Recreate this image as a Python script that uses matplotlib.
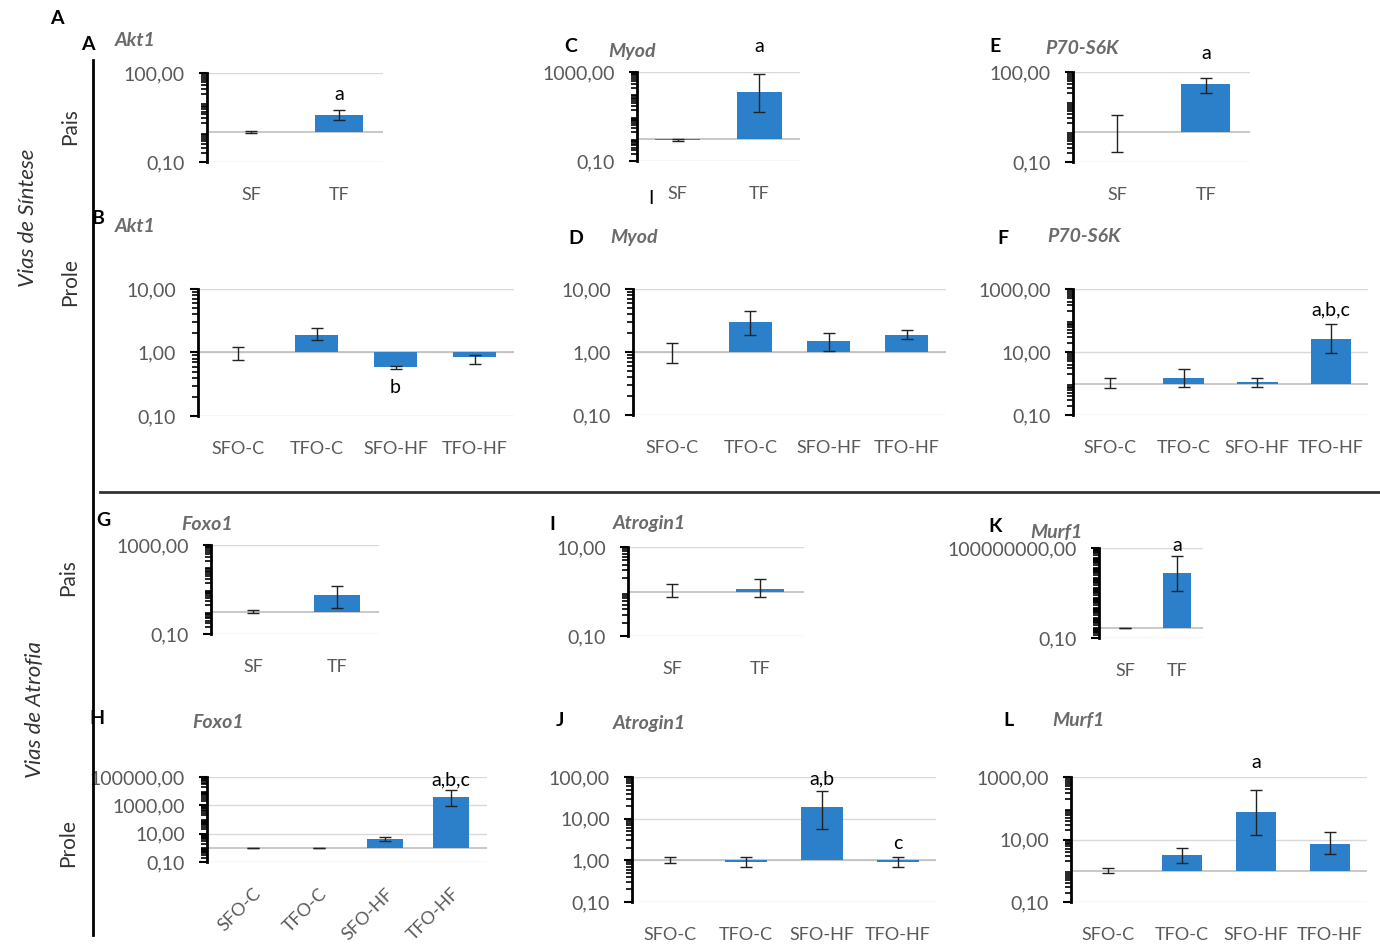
import matplotlib
matplotlib.use("Agg")
import matplotlib.pyplot as plt
import numpy as np
from matplotlib.ticker import FixedLocator, FuncFormatter, LogLocator, NullFormatter

plt.rcParams['font.family'] = ['Lato', 'DejaVu Sans']

W, H = 1380, 944

# ---- data (mean, lower / upper error-bar ends) ----
pais = ["SF", "TF"]
prole = ["SFO-C", "TFO-C", "SFO-HF", "TFO-HF"]

akt1_pais = [1.0, 3.7]
akt1_pais_lo = [0.92, 2.6]
akt1_pais_hi = [1.08, 5.8]

myod_pais = [0.9, 129]
myod_pais_lo = [0.82, 16]
myod_pais_hi = [0.98, 830]

p70_pais = [1.0, 40]
p70_pais_lo = [0.21, 20]
p70_pais_hi = [3.7, 63]

akt1_prole = [1.0, 1.9, 0.6, 0.85]
akt1_prole_lo = [0.75, 1.55, 0.54, 0.67]
akt1_prole_hi = [1.24, 2.4, 0.62, 0.9]

myod_prole = [1.0, 3.0, 1.5, 1.85]
myod_prole_lo = [0.67, 1.85, 1.05, 1.6]
myod_prole_hi = [1.38, 4.4, 2.0, 2.2]

p70_prole = [1.0, 1.5, 1.1, 26]
p70_prole_lo = [0.73, 0.8, 0.8, 9]
p70_prole_hi = [1.5, 2.9, 1.5, 80]

foxo1_pais = [1.0, 5.8]
foxo1_pais_lo = [0.85, 1.5]
foxo1_pais_hi = [1.15, 15]

atrogin1_pais = [1.0, 1.15]
atrogin1_pais_lo = [0.75, 0.75]
atrogin1_pais_hi = [1.45, 1.9]

murf1_pais = [1.0, 3e5]
murf1_pais_lo = [0.9, 5000]
murf1_pais_hi = [1.1, 1.6e7]

foxo1_prole = [1.0, 1.0, 4.3, 4000]
foxo1_prole_lo = [0.95, 0.95, 3.0, 900]
foxo1_prole_hi = [1.05, 1.05, 6.0, 12000]

atrogin1_prole = [1.0, 0.9, 18.6, 0.9]
atrogin1_prole_lo = [0.85, 0.7, 5.8, 0.7]
atrogin1_prole_hi = [1.2, 1.2, 45, 1.2]

murf1_prole = [1.0, 3.2, 78, 7.3]
murf1_prole_lo = [0.85, 1.8, 14, 3.5]
murf1_prole_hi = [1.2, 5.5, 390, 18]

fig = plt.figure(figsize=(W / 100, H / 100), dpi=100)

GREY = '#595959'
BLUE = '#2b80c9'


def fmt(v, _pos=None):
    return f"{v:.2f}".replace('.', ',')


def panel(x0, x1, ytop, ybot, cats, vals, lo, hi, ticks, sig=None, rot=False, xlim=None):
    ax = fig.add_axes([x0 / W, 1 - ybot / H, (x1 - x0) / W, (ybot - ytop) / H])
    x = np.arange(len(cats))
    v = np.array(vals, dtype=float)
    ax.bar(x, v - 1, bottom=1, width=0.55, color=BLUE, linewidth=0, zorder=3)
    ax.errorbar(x, v, yerr=[v - np.array(lo), np.array(hi) - v], fmt='none',
                ecolor='#222222', elinewidth=1, capsize=4, capthick=1, zorder=4)
    ax.set_yscale('log')
    ax.set_ylim(ticks[0], ticks[-1])
    ax.set_xlim(xlim if xlim else (-0.5, len(cats) - 0.5))
    ax.yaxis.set_major_locator(FixedLocator(ticks))
    ax.yaxis.set_major_formatter(FuncFormatter(fmt))
    ax.yaxis.set_minor_locator(LogLocator(base=10, subs=np.arange(2, 10), numticks=100))
    ax.yaxis.set_minor_formatter(NullFormatter())
    for t in ticks:
        ax.axhline(t, color='#d9d9d9', lw=1, zorder=0)
    ax.axhline(1, color='#bfbfbf', lw=1.2, zorder=1)
    for s in ['top', 'right', 'bottom']:
        ax.spines[s].set_visible(False)
    ax.spines['left'].set_linewidth(2)
    ax.spines['left'].set_color('black')
    ax.tick_params(axis='y', which='major', direction='out', length=6, width=1.5,
                   labelsize=14, labelcolor=GREY, color='black', pad=10)
    ax.tick_params(axis='y', which='minor', direction='out', length=4, width=1.2,
                   color='black')
    ax.set_xticks(x)
    if rot:
        ax.set_xticklabels(cats, rotation=45, ha='right', rotation_mode='anchor')
    else:
        ax.set_xticklabels(cats)
    ax.tick_params(axis='x', length=0, labelsize=13, labelcolor=GREY,
                   pad=17 if rot else 18)
    ax.patch.set_alpha(0)
    if sig:
        for i, (s, yy) in sig.items():
            ax.text(i, yy, s, ha='center', va='bottom', fontsize=14, color='black')
    return ax


# top block: Vias de Sintese
panel(207, 383, 73, 162, pais, akt1_pais, akt1_pais_lo, akt1_pais_hi, [0.1, 100],
      sig={1: ('a', 10)})
panel(637, 800, 72, 161, pais, myod_pais, myod_pais_lo, myod_pais_hi, [0.1, 1000],
      sig={1: ('a', 6000)})
panel(1073, 1250, 72, 162, pais, p70_pais, p70_pais_lo, p70_pais_hi, [0.1, 100],
      sig={1: ('a', 210)})
panel(198, 514, 289, 416, prole, akt1_prole, akt1_prole_lo, akt1_prole_hi, [0.1, 1, 10],
      sig={2: ('b', 0.21)})
panel(633, 946, 289, 415, prole, myod_prole, myod_prole_lo, myod_prole_hi, [0.1, 1, 10])
panel(1073, 1368, 289, 415, prole, p70_prole, p70_prole_lo, p70_prole_hi, [0.1, 10, 1000],
      sig={3: ('a,b,c', 120)})

# bottom block: Vias de Atrofia
panel(211, 379, 545, 634, pais, foxo1_pais, foxo1_pais_lo, foxo1_pais_hi, [0.1, 1000])
panel(628, 804, 547, 636, pais, atrogin1_pais, atrogin1_pais_lo, atrogin1_pais_hi, [0.1, 10])
panel(1099, 1203, 548, 638, pais, murf1_pais, murf1_pais_lo, murf1_pais_hi, [0.1, 1e8],
      sig={1: ('a', 2.5e7)})
panel(207, 487, 777, 862, prole, foxo1_prole, foxo1_prole_lo, foxo1_prole_hi,
      [0.1, 10, 1000, 100000], sig={3: ('a,b,c', 15000)}, rot=True, xlim=(-0.7, 3.55))
panel(632, 936, 777, 902, prole, atrogin1_prole, atrogin1_prole_lo, atrogin1_prole_hi,
      [0.1, 1, 10, 100], sig={2: ('a,b', 55), 3: ('c', 1.6)})
panel(1071, 1367, 777, 902, prole, murf1_prole, murf1_prole_lo, murf1_prole_hi,
      [0.1, 10, 1000], sig={2: ('a', 1500)})


def T(x, y, s, **kw):
    kw.setdefault('va', 'center')
    fig.text(x / W, 1 - y / H, s, **kw)


LET = dict(fontsize=14, fontweight='bold', color='black', ha='center')
GENE = dict(fontsize=14, fontweight='bold', style='italic', color='#6b6b6b', ha='left')

T(57, 18, 'A', **LET)
for (lx, ly, l), (gx, gy, g) in [
    ((88, 45, 'A'), (115, 40, 'Akt1')),
    ((571, 46, 'C'), (608, 52, 'Myod')),
    ((995, 47, 'E'), (1045, 48, 'P70-S6K')),
    ((98, 218, 'B'), (115, 226, 'Akt1')),
    ((576, 239, 'D'), (610, 237, 'Myod')),
    ((1003, 238, 'F'), (1047, 236, 'P70-S6K')),
    ((103, 521, 'G'), (181, 524, 'Foxo1')),
    ((552, 524, 'I'), (613, 524, 'Atrogin1')),
    ((995, 526, 'K'), (1030, 532, 'Murf1')),
    ((97, 719, 'H'), (192, 723, 'Foxo1')),
    ((560, 720, 'J'), (613, 724, 'Atrogin1')),
    ((1008, 721, 'L'), (1052, 721, 'Murf1')),
]:
    T(lx, ly, l, **LET)
    T(gx, gy, g, **GENE)
T(651, 198, 'I', fontsize=14, color='black', ha='center')

# side labels
SIDE = dict(fontsize=15, color='#333333', ha='center', rotation=90)
T(70, 127, 'Pais', **SIDE)
T(70, 282, 'Prole', **SIDE)
T(68, 578, 'Pais', **SIDE)
T(68, 843, 'Prole', **SIDE)
T(28, 218, 'Vias de Síntese', fontsize=16, style='italic', color='#333333',
  ha='center', rotation=90)
T(35, 710, 'Vias de Atrofia', fontsize=16, style='italic', color='#333333',
  ha='center', rotation=90)

# divider lines
fig.add_artist(plt.Line2D([93 / W, 93 / W], [1 - 60 / H, 1 - 935 / H], color='black', lw=2))
fig.add_artist(plt.Line2D([100 / W, 1380 / W], [1 - 492 / H, 1 - 492 / H], color='#333333', lw=2))

fig.savefig('out.png', dpi=100)
